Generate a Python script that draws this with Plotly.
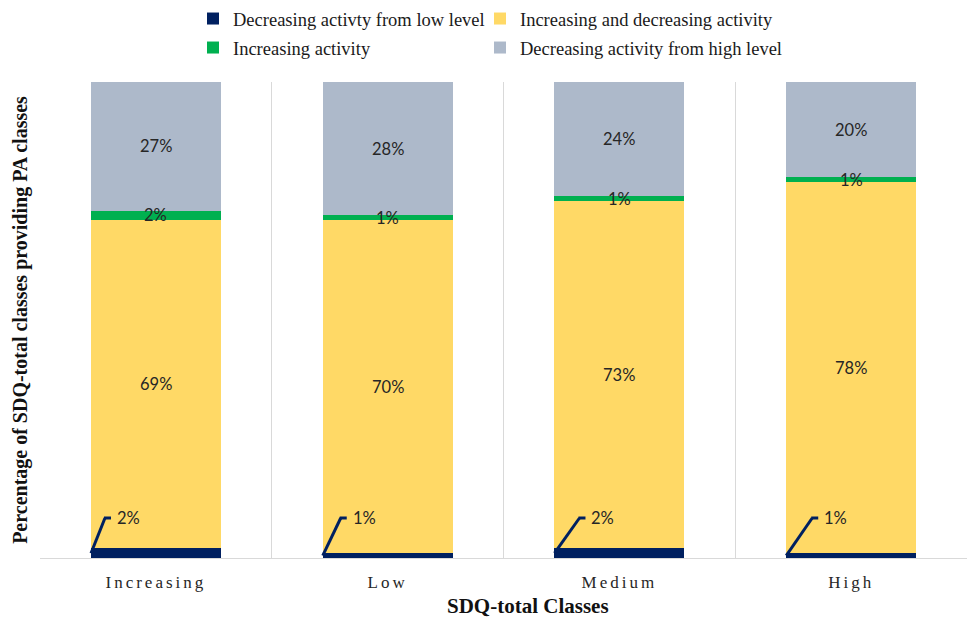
import plotly.graph_objects as go

# SDQ-total classes on the x axis, share of each PA class (percent) stacked per bar
categories = ["Increasing", "Low", "Medium", "High"]
dec_from_low = [2, 1, 2, 1]
inc_and_dec = [69, 70, 73, 78]
increasing = [2, 1, 1, 1]
dec_from_high = [27, 28, 24, 20]

series_names = [
    "Decreasing activty from low level",
    "Increasing and decreasing activity",
    "Increasing activity",
    "Decreasing activity from high level",
]
series_values = [dec_from_low, inc_and_dec, increasing, dec_from_high]
series_colors = ["#002060", "#FFD966", "#00B050", "#ADB9CA"]

# horizontal reach (px) of the bent leader lines for the bottom labels
leader_dx_px = [14, 18, 25, 26]

W, H = 970, 621
M_L, M_R, M_T, M_B = 40, 3, 82, 63
plot_w = W - M_L - M_R
plot_h = H - M_T - M_B
px_per_cat = plot_w / len(categories)
px_per_pct = plot_h / 100.0
bargap = 0.44
half_bar = (1 - bargap) / 2

label_font = dict(family="Lato, Open Sans, sans-serif", size=16.5, color="#262626")
serif = "Liberation Serif, Times New Roman, serif"

# one single-entry legend per series, laid out as a 2 x 2 grid
legend_ids = ["legend", "legend2", "legend3", "legend4"]
legend_xy_px = [(193, 19), (480, 19), (193, 48), (480, 48)]

fig = go.Figure()
for name, vals, col, lg in zip(series_names, series_values, series_colors, legend_ids):
    fig.add_trace(go.Bar(
        x=categories, y=vals, name=name, marker=dict(color=col, line=dict(width=0)),
        legend=lg, hoverinfo="skip",
    ))

annotations = []
shapes = []
for i, cat in enumerate(categories):
    base = 0.0
    for s, vals in enumerate(series_values):
        v = vals[i]
        if s == 0:
            # bottom segment: label set off with a bent leader line
            x_start = i - half_bar
            y_start = v / 2.0
            y_knee = 40 / px_per_pct
            x_knee = x_start + leader_dx_px[i] / px_per_cat
            x_end = x_knee + 6 / px_per_cat
            shapes.append(dict(type="line", xref="x", yref="y", x0=x_start, y0=y_start,
                               x1=x_knee, y1=y_knee, line=dict(color="#002060", width=3)))
            shapes.append(dict(type="line", xref="x", yref="y", x0=x_knee - 1 / px_per_cat, y0=y_knee,
                               x1=x_end, y1=y_knee, line=dict(color="#002060", width=3)))
            annotations.append(dict(x=x_end + 4 / px_per_cat, y=y_knee, xref="x", yref="y",
                                    text=f"{v}%", showarrow=False, xanchor="left",
                                    yanchor="middle", font=label_font))
        else:
            annotations.append(dict(x=i, y=base + v / 2.0, xref="x", yref="y",
                                    text=f"{v}%", showarrow=False, xanchor="center",
                                    yanchor="middle", font=label_font))
        base += v

# x-axis title, set slightly right of centre
annotations.append(dict(
    text="<b>SDQ-total Classes</b>", xref="paper", yref="paper",
    x=(528 - M_L) / plot_w, y=-(606 - (M_T + plot_h)) / plot_h,
    xanchor="center", yanchor="middle", showarrow=False,
    font=dict(family=serif, size=21, color="#111111"),
))

legend_style = dict(
    orientation="h", xref="container", yref="container", xanchor="left", yanchor="middle",
    font=dict(family=serif, size=18.5, color="#1a1a1a"),
    bgcolor="rgba(0,0,0,0)", traceorder="normal",
)
legends = {
    lg: dict(x=px / W, y=1 - py / H, **legend_style)
    for lg, (px, py) in zip(legend_ids, legend_xy_px)
}

fig.update_layout(
    width=W, height=H,
    margin=dict(l=M_L, r=M_R, t=M_T, b=M_B, autoexpand=False),
    paper_bgcolor="white", plot_bgcolor="white",
    barmode="stack", bargap=bargap,
    showlegend=True,
    annotations=annotations,
    shapes=shapes,
    xaxis=dict(
        tickson="boundaries", showgrid=True, gridcolor="#d9d9d9", gridwidth=1,
        showline=True, linecolor="#d9d9d9", linewidth=1, ticks="",
        tickfont=dict(family=serif, size=17, color="#262626"), ticklabelstandoff=9,
        automargin=False,
    ),
    yaxis=dict(
        range=[0, 100], showgrid=False, zeroline=False, showticklabels=False, ticks="",
        showline=False,
        title=dict(text="<b>Percentage of SDQ-total classes providing PA classes</b>",
                   font=dict(family=serif, size=20, color="#111111"), standoff=6),
        automargin=False,
    ),
    **legends,
)

# widen the character spacing of the category labels
spacing_js = """
var gd = document.getElementById('{plot_id}');
function spaceTicks() {
  gd.querySelectorAll('.xtick text').forEach(function (t) {
    t.setAttribute('letter-spacing', '3px');
  });
}
spaceTicks();
gd.on('plotly_afterplot', spaceTicks);
"""

fig.write_html("out.html", post_script=spacing_js)
